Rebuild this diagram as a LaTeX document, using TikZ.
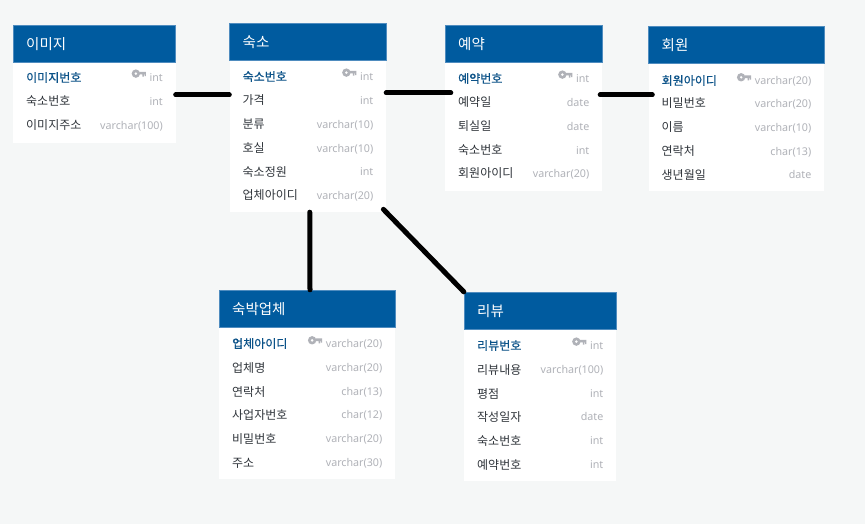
\documentclass[tikz,border=0pt]{standalone}
\usepackage{fontspec}
\setmainfont{Noto Sans CJK KR}
\newfontfamily\typefont{Noto Sans}
\newfontfamily\keyfont[FakeBold=0.35]{Noto Sans CJK KR}
\usetikzlibrary{fit}
\definecolor{bgcol}{HTML}{F5F7F7}
\definecolor{headcol}{HTML}{005B9F}
\definecolor{headline}{HTML}{4F8CBF}
\definecolor{keycol}{HTML}{0B5288}
\definecolor{namecol}{HTML}{30353B}
\definecolor{typecol}{HTML}{B0B2B8}
\tikzset{
	tblbody/.style={fill=white,inner sep=0pt},
	tblhead/.style={fill=headcol,draw=headline,line width=0.5pt,inner sep=0pt},
	tbltitle/.style={anchor=base west,inner sep=0pt,text=white,font=\fontsize{14.5}{16}\selectfont},
	rowname/.style={anchor=base west,inner sep=0pt,text=namecol,font=\fontsize{12}{14}\selectfont},
	rowkey/.style={rowname,text=keycol,font=\fontsize{12}{14}\keyfont},
	rowtype/.style={anchor=base east,inner sep=0pt,text=typecol,font=\fontsize{10.7}{14}\typefont},
	relline/.style={line width=5pt,line cap=round,black},
	keyicon/.pic={
		\fill[typecol,even odd rule] (-13.5,0) circle (4.2) (-13.5,0) circle (1.6);
		\fill[typecol] (-10,-1.8) rectangle (-3.5,0.8) (-7,0.8) rectangle (-5.5,3) (-4.8,0.8) rectangle (-3.5,2.4);
	}
}
% name, left, right, top, bottom, title
\newcommand{\dbtable}[6]{
	\node[tblbody,fit={(#2,#4) (#3,#5)}] (#1) {};
	\node[tblhead,fit={(#2,#4) (#3,#4+37.5)}] (#1head) {};
	\node[tbltitle] (#1title) at (#2+13,#4+24.5) {#6};
}
% table-row, left, right, y, text, type
\newcommand{\dbrow}[6]{
	\node[rowname] (#1name) at (#2+13,#4+5) {#5};
	\node[rowtype] (#1type) at (#3-12.5,#4+4.5) {#6};
}
\newcommand{\dbkey}[6]{
	\node[rowkey] (#1name) at (#2+13,#4+5) {#5};
	\node[rowtype] (#1type) at (#3-12.5,#4+4.5) {#6};
	\path (#1type.west) ++(0,-4) pic {keyicon};
}
\begin{document}
\begin{tikzpicture}[x=1pt,y=-1pt]
	\fill[bgcol] (0,0) rectangle (865,524);
	% image
	\dbtable{image}{13}{175.5}{25}{143}{이미지}
	\dbkey{image1}{13}{175.5}{77}{이미지번호}{int}
	\foreach \i/\yy/\nm/\tp in {2/101/숙소번호/int,3/125/이미지주소/varchar(100)}{
		\dbrow{image\i}{13}{175.5}{\yy}{\nm}{\tp}
	}
	% lodging
	\dbtable{lodge}{229.5}{386}{23}{212}{숙소}
	\dbkey{lodge1}{229.5}{386}{76}{숙소번호}{int}
	\foreach \i/\yy/\nm/\tp in {2/100/가격/int,3/124/분류/varchar(10),4/148/호실/varchar(10),5/171/숙소정원/int,6/195/업체아이디/varchar(20)}{
		\dbrow{lodge\i}{229.5}{386}{\yy}{\nm}{\tp}
	}
	% booking
	\dbtable{book}{445}{602}{25}{191}{예약}
	\dbkey{book1}{445}{602}{78}{예약번호}{int}
	\foreach \i/\yy/\nm/\tp in {2/102/예약일/date,3/126/퇴실일/date,4/150/숙소번호/int,5/173/회원아이디/varchar(20)}{
		\dbrow{book\i}{445}{602}{\yy}{\nm}{\tp}
	}
	% member
	\dbtable{member}{648.5}{824}{26}{191}{회원}
	\dbkey{member1}{648.5}{824}{80}{회원아이디}{varchar(20)}
	\foreach \i/\yy/\nm/\tp in {2/103/비밀번호/varchar(20),3/127/이름/varchar(10),4/151/연락처/char(13),5/174/생년월일/date}{
		\dbrow{member\i}{648.5}{824}{\yy}{\nm}{\tp}
	}
	% company
	\dbtable{company}{219}{395}{290}{479}{숙박업체}
	\dbkey{company1}{219}{395}{343}{업체아이디}{varchar(20)}
	\foreach \i/\yy/\nm/\tp in {2/367/업체명/varchar(20),3/391/연락처/char(13),4/414/사업자번호/char(12),5/438/비밀번호/varchar(20),6/462/주소/varchar(30)}{
		\dbrow{company\i}{219}{395}{\yy}{\nm}{\tp}
	}
	% review
	\dbtable{review}{464}{616}{292}{481}{리뷰}
	\dbkey{review1}{464}{616}{345}{리뷰번호}{int}
	\foreach \i/\yy/\nm/\tp in {2/369/리뷰내용/varchar(100),3/393/평점/int,4/416/작성일자/date,5/440/숙소번호/int,6/464/예약번호/int}{
		\dbrow{review\i}{464}{616}{\yy}{\nm}{\tp}
	}
	% relations
	\draw[relline] ([yshift=-11pt]image.east) -- ([yshift=22.5pt]lodge.west);
	\draw[relline] ([yshift=24.5pt]lodge.east) -- ([xshift=6pt,yshift=15pt]book.west);
	\draw[relline] ([xshift=-2pt,yshift=13pt]book.east) -- ([xshift=4pt,yshift=13.5pt]member.west);
	\draw[relline] ([xshift=2pt]lodge.south) -- ([xshift=3pt]company.north);
	\draw[relline,shorten <=-4pt] (lodge.south east) -- (review.north west);
\end{tikzpicture}
\end{document}
